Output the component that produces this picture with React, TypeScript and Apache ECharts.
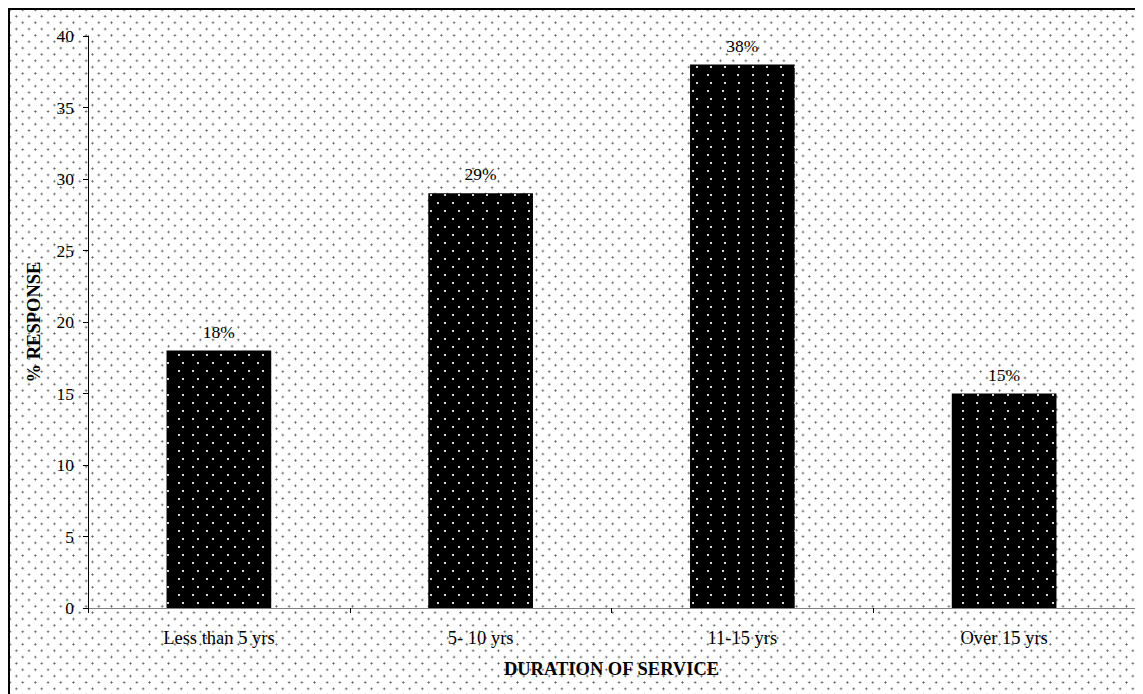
import React, { useEffect, useRef } from "react";
import * as echarts from "echarts";

const categories = ["Less than 5 yrs", "5- 10 yrs", "11-15 yrs", "Over 15 yrs"];
const responses = [18, 29, 38, 15];
const yTicks = { min: 0, max: 40, interval: 5 };
const xTitle = "DURATION OF SERVICE";
const yTitle = "% RESPONSE";

const FONT = "'Liberation Serif', 'Times New Roman', serif";

export default function App() {
  const ref = useRef<HTMLDivElement>(null);

  useEffect(() => {
    document.body.style.overflow = "hidden";
    const chart = echarts.init(ref.current!, undefined, { renderer: "svg" });
    chart.setOption({
      animation: false,
      textStyle: { fontFamily: FONT, color: "#000" },
      grid: { left: 78, top: 26, right: 65, bottom: 102, containLabel: false },
      xAxis: {
        type: "category",
        data: categories,
        name: xTitle,
        nameLocation: "middle",
        nameGap: 51,
        nameTextStyle: { fontFamily: FONT, fontWeight: "bold", fontSize: 18.5, color: "#000" },
        axisLine: { lineStyle: { color: "#808080", width: 1 } },
        axisTick: { show: true, length: 5, lineStyle: { color: "#000" } },
        axisLabel: { fontFamily: FONT, fontSize: 18.5, color: "#000", margin: 20 },
        splitLine: { show: false },
      },
      yAxis: {
        type: "value",
        min: yTicks.min,
        max: yTicks.max,
        interval: yTicks.interval,
        name: yTitle,
        nameLocation: "middle",
        nameRotate: 90,
        nameGap: 45,
        nameTextStyle: { fontFamily: FONT, fontWeight: "bold", fontSize: 18.5, color: "#000" },
        axisLine: { show: true, lineStyle: { color: "#000", width: 1 } },
        axisTick: { show: true, length: 5, lineStyle: { color: "#000" } },
        axisLabel: { fontFamily: FONT, fontSize: 17.5, color: "#000", margin: 14 },
        splitLine: { show: false },
      },
      series: [
        {
          type: "bar",
          data: responses,
          barWidth: "40%",
          itemStyle: {
            color: "#000",
            decal: {
              symbol: "rect",
              symbolSize: 1,
              color: "#d8d8d8",
              dashArrayX: [
                [1.2, 11.5],
                [0, 6.35, 1.2, 5.15],
              ],
              dashArrayY: [1.2, 5.15],
            },
          },
          label: {
            show: true,
            position: "top",
            distance: 10,
            formatter: "{c}%",
            fontFamily: FONT,
            fontSize: 17.5,
            color: "#000",
          },
        },
      ],
    });
    return () => chart.dispose();
  }, []);

  const bg =
    "radial-gradient(circle, #555 0.9px, transparent 1.1px) 0 0 / 12.7px 12.7px, " +
    "radial-gradient(circle, #555 0.9px, transparent 1.1px) 6.35px 6.35px / 12.7px 12.7px, #fff";

  return (
    <div
      style={{
        position: "relative",
        width: 1190,
        height: 700,
        border: "2px solid #000",
        background: bg,
      }}
    >
      <div ref={ref} style={{ position: "absolute", left: 0, top: 0, width: 1190, height: 700 }} />
    </div>
  );
}
